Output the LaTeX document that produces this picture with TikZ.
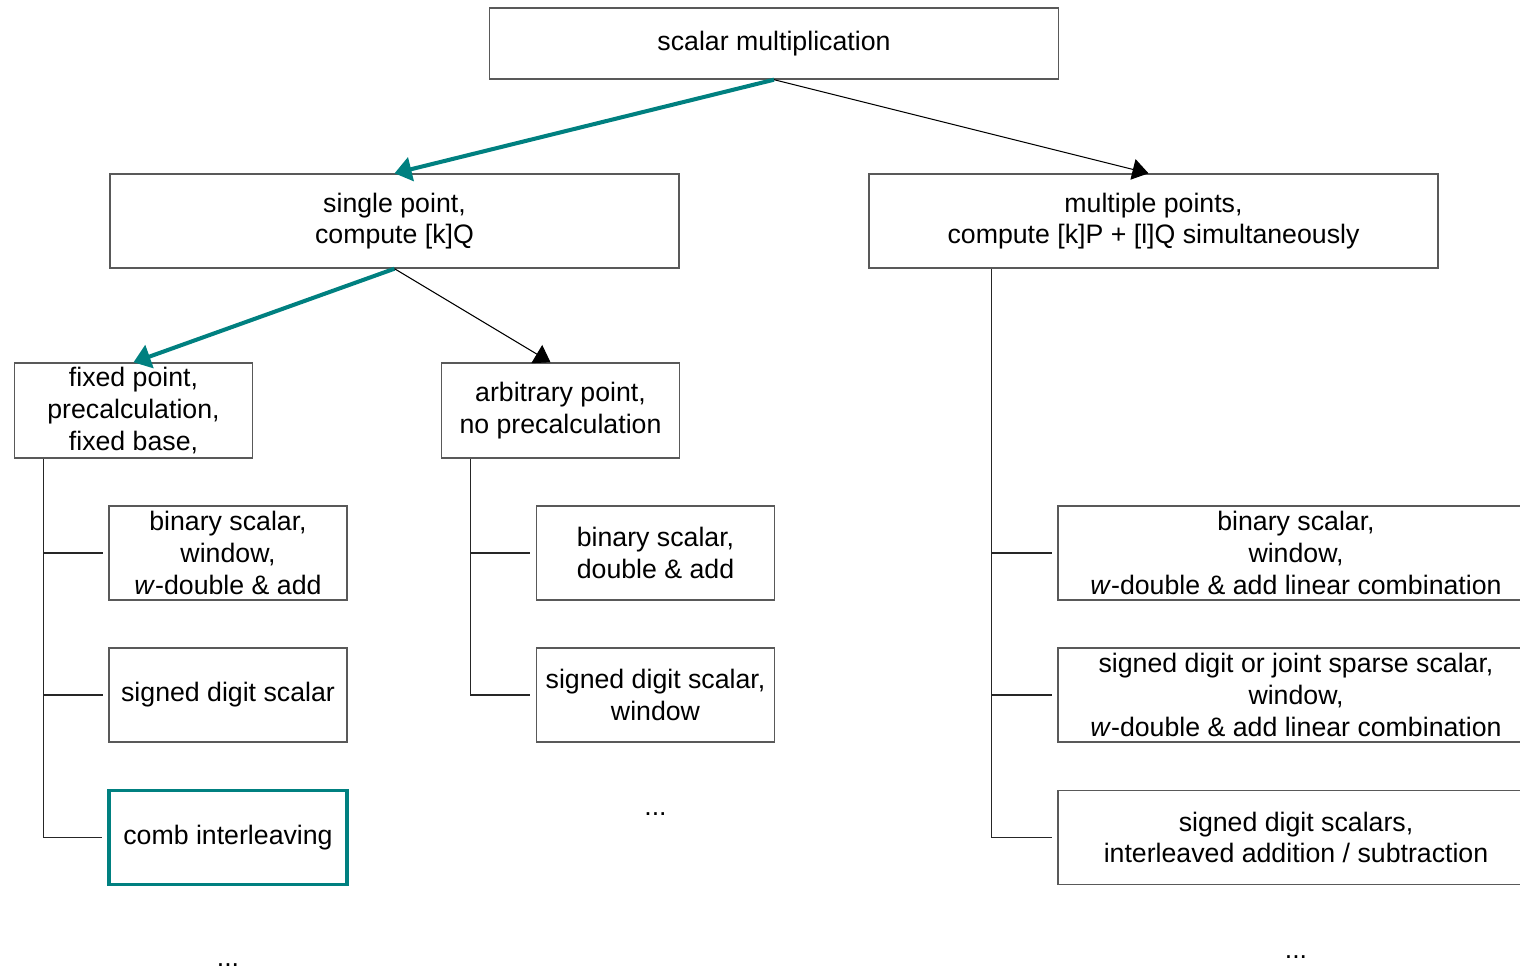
\documentclass[tikz,border=0pt]{standalone}
\usepackage{fontspec}
\setmainfont{Liberation Sans}
\usepackage{tikz}
\usetikzlibrary{arrows.meta}

\tikzset{
  box/.style={draw=black!65, line width=0.8pt, inner sep=0pt, align=center,
    font=\fontsize{15.2}{18.1}\selectfont},
  topbox/.style={box, minimum width=11.38cm, minimum height=1.42cm},
  widebox/.style={box, minimum width=11.38cm, minimum height=1.88cm},
  midbox/.style={box, minimum width=4.75cm, minimum height=1.9cm},
  leafbox/.style={box, minimum width=4.76cm, minimum height=1.88cm},
  longbox/.style={box, minimum width=9.52cm, minimum height=1.88cm},
  chosen/.style={draw=teal, line width=2.2pt},
  dots/.style={inner sep=0pt, anchor=base, font=\fontsize{15.2}{18.1}\selectfont},
  tealarrow/.style={draw=teal, line width=2.3pt, -{Triangle[length=0.34cm,width=0.48cm]}},
  plainarrow/.style={draw=black, line width=0.6pt, -{Triangle[length=0.32cm,width=0.42cm]}},
  branch/.style={draw=black!85, line width=0.6pt}
}

\begin{document}
\begin{tikzpicture}[x=0.02cm, y=-0.02cm]
        \useasboundingbox (0,0) rectangle (1520,971);
        \clip (0,0) rectangle (1520,971);
        \node[topbox] (top) at (774,43.5) {scalar multiplication};
        \node[widebox] (single) at (394.5,221) {single point,\\compute [k]Q};
        \node[widebox] (multi) at (1153.5,221) {multiple points,\\compute [k]P + [l]Q simultaneously};
        \node[midbox] (fixed) at (133.5,410.5) {fixed point,\\precalculation,\\fixed base,};
        \node[midbox] (arb) at (560.5,410.5) {arbitrary point,\\no precalculation};
        % fixed point leaves
        \node[leafbox] (fb1) at (228,553) {binary scalar,\\window,\\\textit{w}-double \& add};
        \node[leafbox] (fb2) at (228,695) {signed digit scalar};
        \node[leafbox, chosen] (fb3) at (228,837.5) {comb interleaving};
        \node[dots] (fdots) at (228,966) {...};
        % arbitrary point leaves
        \node[leafbox] (ab1) at (655.5,553) {binary scalar,\\double \& add};
        \node[leafbox] (ab2) at (655.5,695) {signed digit scalar,\\window};
        \node[dots] (adots) at (655.5,815) {...};
        % multiple point leaves
        \node[longbox] (mb1) at (1296,553) {binary scalar,\\window,\\\textit{w}-double \& add linear combination};
        \node[longbox] (mb2) at (1296,695) {signed digit or joint sparse scalar,\\window,\\\textit{w}-double \& add linear combination};
        \node[longbox] (mb3) at (1296,837.5) {signed digit scalars,\\interleaved addition / subtraction};
        \node[dots] (mdots) at (1296,958) {...};

        \draw[tealarrow] (top.south) -- (single.north);
        \draw[plainarrow] (top.south) -- ([xshift=-0.1cm]multi.north);
        \draw[tealarrow] (single.south) -- (fixed.north);
        \draw[plainarrow] (single.south) -- ([xshift=-0.2cm]arb.north);

        \coordinate (ftrunk) at ([xshift=0.58cm]fixed.south west);
        \coordinate (atrunk) at ([xshift=0.58cm]arb.south west);
        \coordinate (mtrunk) at ([xshift=2.46cm]multi.south west);
        \draw[branch] (ftrunk) |- ([xshift=-0.1cm]fb3.west);
        \draw[branch] (ftrunk |- fb1.west) -- ([xshift=-0.1cm]fb1.west);
        \draw[branch] (ftrunk |- fb2.west) -- ([xshift=-0.1cm]fb2.west);
        \draw[branch] (atrunk) |- ([xshift=-0.12cm]ab2.west);
        \draw[branch] (atrunk |- ab1.west) -- ([xshift=-0.12cm]ab1.west);
        \draw[branch] (mtrunk) |- ([xshift=-0.1cm]mb3.west);
        \foreach \n in {mb1,mb2}
          \draw[branch] (mtrunk |- \n.west) -- ([xshift=-0.1cm]\n.west);
\end{tikzpicture}
\end{document}
